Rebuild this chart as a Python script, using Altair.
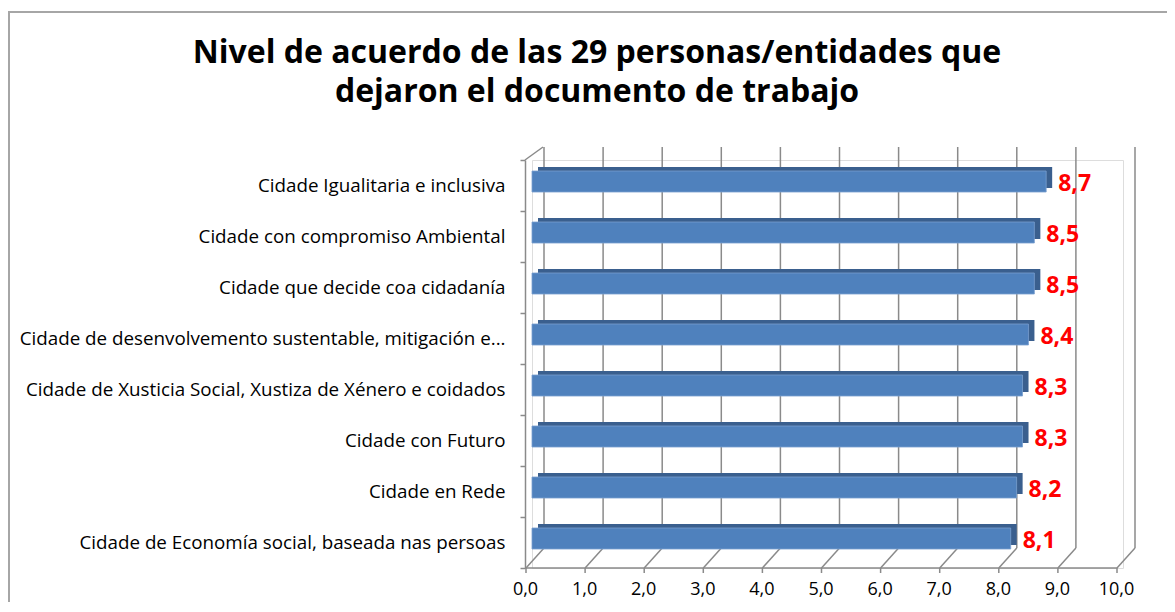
import altair as alt
import pandas as pd

title_lines = ["Nivel de acuerdo de las 29 personas/entidades que", "dejaron el documento de trabajo"]
categories = [
    "Cidade Igualitaria e inclusiva",
    "Cidade con compromiso Ambiental",
    "Cidade que decide coa cidadanía",
    "Cidade de desenvolvemento sustentable, mitigación e...",
    "Cidade de Xusticia Social, Xustiza de Xénero e coidados",
    "Cidade con  Futuro",
    "Cidade en Rede",
    "Cidade de Economía social, baseada nas persoas",
]
values = [8.7, 8.5, 8.5, 8.4, 8.3, 8.3, 8.2, 8.1]
tick_values = [0, 1, 2, 3, 4, 5, 6, 7, 8, 9, 10]

df = pd.DataFrame({"cat": categories, "value": values})
ticks = pd.DataFrame({"v": tick_values})
one = pd.DataFrame({"a": [0]})

FONT = "Open Sans"
GRID = "#8A8A8A"

xscale = alt.Scale(domain=[0, 10], nice=False, zero=True)
yscale = alt.Scale(paddingInner=0, paddingOuter=0)

# outer chart border
border = alt.Chart(one).mark_rect(fill=None, stroke="#A6A6A6", strokeWidth=2).encode(
    x=alt.value(-523), x2=alt.value(700), y=alt.value(-148), y2=alt.value(500)
)

# title as text
title = alt.Chart(one).mark_text(
    text=title_lines, align="center", baseline="alphabetic", lineHeight=39,
    font=FONT, fontSize=32, fontWeight="bold", color="#000000"
).encode(x=alt.value(65), y=alt.value(-97))

# back wall gridlines
back_grid = alt.Chart(ticks).mark_rule(xOffset=12, color=GRID, strokeWidth=1.5).encode(
    x=alt.X("v:Q", scale=xscale), y=alt.value(-13), y2=alt.value(388)
)
# floor diagonals
floor_diag = alt.Chart(ticks).mark_rule(xOffset=-6, x2Offset=12, color=GRID, strokeWidth=1.5).encode(
    x=alt.X("v:Q", scale=xscale), x2="v:Q", y=alt.value(408), y2=alt.value(388)
)
# floor front ticks
floor_ticks = alt.Chart(ticks).mark_rule(xOffset=-6, color=GRID, strokeWidth=1.5).encode(
    x=alt.X("v:Q", scale=xscale), y=alt.value(408), y2=alt.value(413)
)
# floor front line
floor_line = alt.Chart(one).mark_rule(xOffset=-7, x2Offset=-6, color=GRID, strokeWidth=1.5).encode(
    x=alt.datum(0, scale=xscale), x2=alt.datum(10), y=alt.value(408)
)
# left wall top diagonal
wall_top = alt.Chart(one).mark_rule(color=GRID, strokeWidth=1.5).encode(
    x=alt.value(-7), x2=alt.value(11), y=alt.value(0), y2=alt.value(-13)
)

base = alt.Chart(df)

bar_depth = base.mark_bar(size=21, xOffset=6, yOffset=-8, color="#3A5F8E").encode(
    x=alt.X("value:Q", scale=xscale),
    y=alt.Y("cat:N", sort=categories, scale=yscale),
)

bar_front = base.mark_bar(size=21, yOffset=-4, color="#4F81BD", stroke="#7A9FCF", strokeWidth=0.8).encode(
    x=alt.X(
        "value:Q",
        scale=xscale,
        axis=alt.Axis(
            values=tick_values,
            labelExpr="replace(format(datum.value, '.1f'), '.', ',')",
            ticks=False,
            domain=False,
            grid=False,
            labelFlush=False,
            labelOffset=-7,
            labelPadding=12,
            labelFontSize=18,
            labelColor="#000000",
            labelFont=FONT,
            title=None,
        ),
    ),
    y=alt.Y(
        "cat:N",
        sort=categories,
        scale=yscale,
        axis=alt.Axis(
            title=None,
            offset=7,
            tickBand="extent",
            tickSize=5,
            tickColor=GRID,
            tickWidth=1.5,
            domainColor=GRID,
            domainWidth=1.5,
            labelPadding=15,
            labelFontSize=18.8,
            labelFont=FONT,
            labelColor="#000000",
            labelLimit=700,
        ),
    ),
)

labels = base.transform_calculate(
    lab="replace(format(datum.value, '.1f'), '.', ',')"
).mark_text(
    align="left", baseline="middle", dx=12, dy=-2, color="#FF0000",
    font=FONT, fontWeight="bold", fontSize=23
).encode(
    x=alt.X("value:Q", scale=xscale),
    y=alt.Y("cat:N", sort=categories, scale=yscale),
    text="lab:N",
)

chart = alt.layer(
    border, title, back_grid, floor_diag, floor_ticks, floor_line, wall_top,
    bar_depth, bar_front, labels
).properties(
    width=591,
    height=408,
    padding={"left": 524, "top": 152, "right": 44, "bottom": 34},
    autosize=alt.AutoSizeParams(type="none"),
).configure_view(stroke=None).configure(background="white")

chart.save("out.html", embed_options={"renderer": "svg", "actions": False})
